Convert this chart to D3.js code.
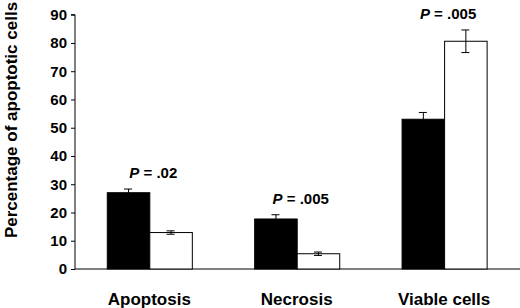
<!DOCTYPE html>
<html>
<head>
<meta charset="utf-8">
<script src="https://cdn.jsdelivr.net/npm/d3@7/dist/d3.min.js"></script>
<style>
  body { margin: 0; background: #fff; }
  svg { display: block; font-family: "Liberation Sans", Arial, sans-serif; font-weight: bold; }
</style>
</head>
<body>
<svg id="chart" width="520" height="308"></svg>
<script>
const categories = ["Apoptosis", "Necrosis", "Viable cells"];
const series = ["Group A", "Group B"];
const valuesA = [27.0, 17.7, 53.0];
const errorsA = [1.3, 1.5, 2.4];
const valuesB = [12.9, 5.4, 80.6];
const errorsB = [0.6, 0.6, 4.0];
const pLabels = ["P = .02", "P = .005", "P = .005"];
const yTicks = [0, 10, 20, 30, 40, 50, 60, 70, 80, 90];

const svg = d3.select("#chart");
const x0 = d3.scaleBand().domain(categories).range([75.6, 517.8]).paddingInner(0.423).paddingOuter(0.2115);
const x1 = d3.scaleBand().domain(series).range([0, x0.bandwidth()]);
const y = d3.scaleLinear().domain([0, 90]).range([269, 14.7]);
const axisX = 75;

const data = categories.map((c, i) => ({
  cat: c,
  p: pLabels[i],
  bars: [
    { s: series[0], v: valuesA[i], e: errorsA[i], fill: "#000" },
    { s: series[1], v: valuesB[i], e: errorsB[i], fill: "#fff" }
  ]
}));

// y axis
const yAxis = d3.axisLeft(y).tickValues(yTicks).tickSize(4).tickPadding(4).tickFormat(d3.format("d"));
const gy = svg.append("g").attr("transform", `translate(${axisX},0)`).call(yAxis);
gy.select(".domain").attr("d", `M-4,${y(90)}H0V${y(0)}`).attr("stroke", "#000");
gy.selectAll(".tick line").attr("stroke", "#000");
gy.selectAll(".tick text").attr("font-size", 15).attr("font-weight", "bold").attr("font-family", "Liberation Sans, Arial, sans-serif").attr("fill", "#000");

// x axis line
svg.append("line").attr("x1", axisX).attr("x2", 520).attr("y1", y(0)).attr("y2", y(0)).attr("stroke", "#000").attr("stroke-width", 1);

const groups = svg.selectAll("g.grp").data(data).join("g").attr("class", "grp")
  .attr("transform", d => `translate(${x0(d.cat)},0)`);

groups.selectAll("rect").data(d => d.bars).join("rect")
  .attr("x", d => x1(d.s) + 0.5)
  .attr("y", d => y(d.v))
  .attr("width", x1.bandwidth())
  .attr("height", d => y(0) - y(d.v))
  .attr("fill", d => d.fill)
  .attr("stroke", "#000")
  .attr("stroke-width", 1);

const capW = 4;
const eb = groups.selectAll("g.eb").data(d => d.bars).join("g").attr("class", "eb")
  .attr("stroke", "#000").attr("stroke-width", 1);
eb.append("line")
  .attr("x1", d => x1(d.s) + x1.bandwidth() / 2 + 0.5).attr("x2", d => x1(d.s) + x1.bandwidth() / 2 + 0.5)
  .attr("y1", d => y(d.v + d.e)).attr("y2", d => y(d.v - d.e));
eb.append("line")
  .attr("x1", d => x1(d.s) + x1.bandwidth() / 2 - capW).attr("x2", d => x1(d.s) + x1.bandwidth() / 2 + capW)
  .attr("y1", d => y(d.v + d.e)).attr("y2", d => y(d.v + d.e));
eb.append("line")
  .attr("x1", d => x1(d.s) + x1.bandwidth() / 2 - capW).attr("x2", d => x1(d.s) + x1.bandwidth() / 2 + capW)
  .attr("y1", d => y(d.v - d.e)).attr("y2", d => y(d.v - d.e));

// P labels
const pText = groups.append("text")
  .attr("x", x0.bandwidth() / 2 + 4)
  .attr("y", d => y(d3.max(d.bars, b => b.v + b.e)) - 11)
  .attr("text-anchor", "middle")
  .attr("font-size", 15)
  .attr("fill", "#000");
pText.append("tspan").attr("font-style", "italic").text(d => d.p.split(" ")[0]);
pText.append("tspan").text(d => " " + d.p.split(" ").slice(1).join(" "));

// category labels
svg.selectAll("text.cat").data(categories).join("text").attr("class", "cat")
  .attr("x", d => x0(d) + x0.bandwidth() / 2)
  .attr("y", 305)
  .attr("text-anchor", "middle")
  .attr("font-size", 17)
  .attr("fill", "#000")
  .text(d => d);

// y label
svg.append("text")
  .attr("transform", "translate(17,120) rotate(-90)")
  .attr("text-anchor", "middle")
  .attr("font-size", 17)
  .attr("fill", "#000")
  .text("Percentage of apoptotic cells");
</script>
</body>
</html>
